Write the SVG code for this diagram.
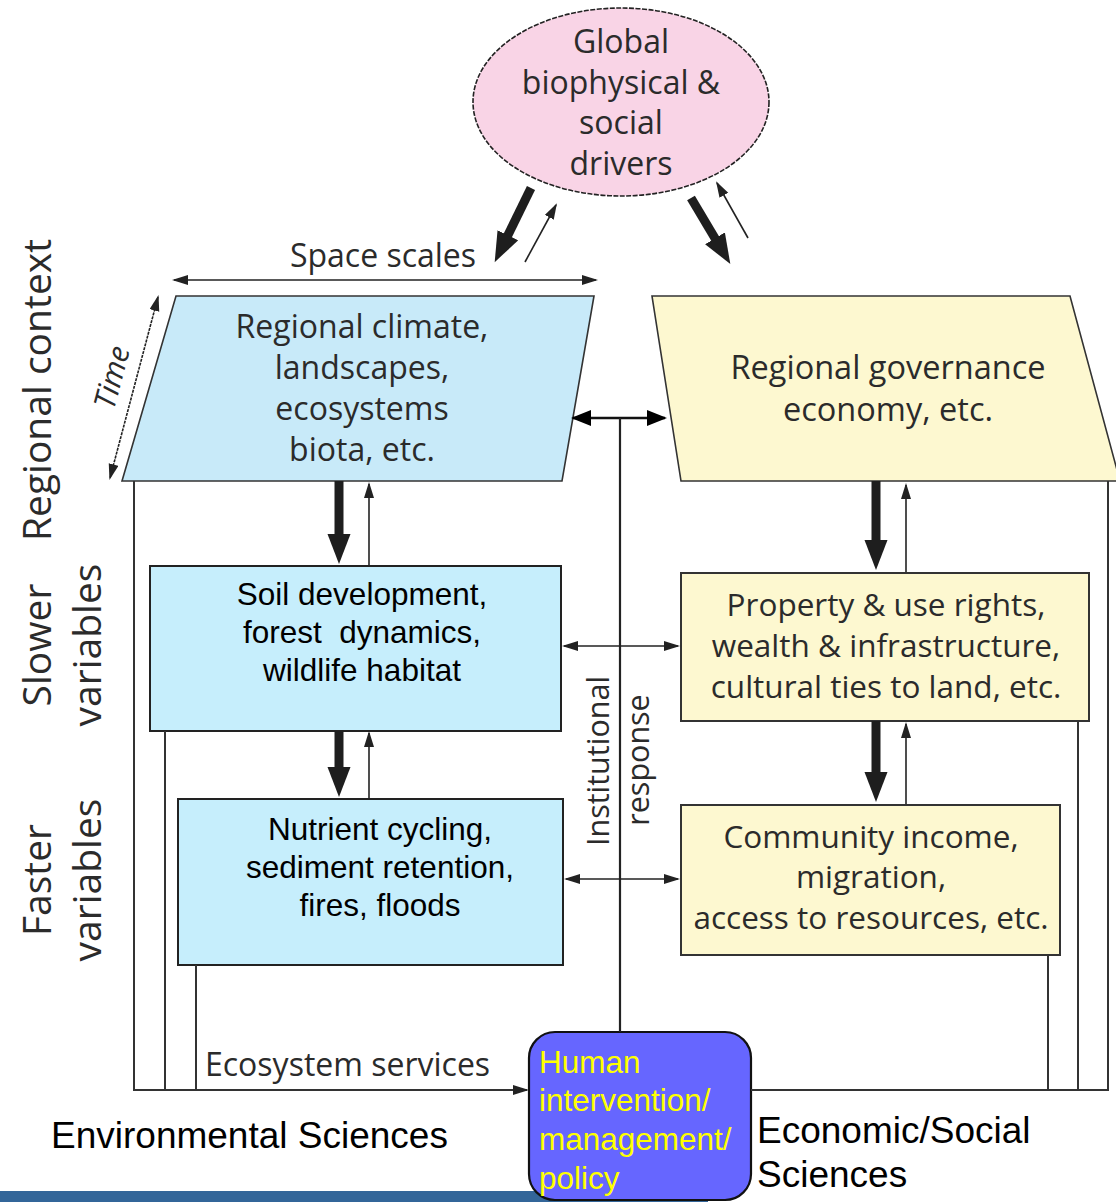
<svg xmlns="http://www.w3.org/2000/svg" width="1116" height="1202" viewBox="0 0 1116 1202">
<style>
.my{font-family:"Open Sans","Noto Sans",sans-serif;fill:#2b2b2b}
.ar{font-family:"Liberation Sans",Arial,sans-serif;fill:#000}
.ln{stroke:#333;stroke-width:2;fill:none}
.thin{stroke:#222;stroke-width:1.6;fill:none}
.thick{stroke:#1e1e1e;stroke-width:9;fill:none}
.dbl{stroke:#111;stroke-width:2.5;fill:none}
</style>
<defs>
<marker id="th" markerUnits="userSpaceOnUse" markerWidth="16" markerHeight="12" refX="14" refY="5" orient="auto-start-reverse"><path d="M0,0 L16,5 L0,10 z" fill="#222"/></marker>
<marker id="bh" markerUnits="userSpaceOnUse" markerWidth="20" markerHeight="16" refX="18" refY="8" orient="auto-start-reverse"><path d="M0,0 L20,8 L0,16 z" fill="#000"/></marker>
<marker id="kh" markerUnits="userSpaceOnUse" markerWidth="32" markerHeight="24" refX="2" refY="11.5" orient="auto"><path d="M0,0 L30,11.5 L0,23 z" fill="#1e1e1e"/></marker>
</defs>
<rect x="0" y="0" width="1116" height="1202" fill="#fff"/>
<rect x="0" y="1191" width="708" height="11" fill="#336699"/>

<g id="global-drivers">
<ellipse cx="621" cy="102" rx="148" ry="94" fill="#f9d4e6" stroke="#222" stroke-width="1.6" stroke-dasharray="5 1.5"/>
<text class="my" font-size="32" text-anchor="middle"><tspan x="621" y="53">Global</tspan><tspan x="621" y="94">biophysical &amp;</tspan><tspan x="621" y="134">social</tspan><tspan x="621" y="175">drivers</tspan></text>
</g>

<g id="regional-climate">
<polygon points="176,296 594,296 562,481 122,481" fill="#c8eaf9" stroke="#333" stroke-width="1.6"/>
<text class="my" font-size="32" text-anchor="middle"><tspan x="362" y="338">Regional climate,</tspan><tspan x="362" y="379">landscapes,</tspan><tspan x="362" y="420">ecosystems</tspan><tspan x="362" y="461">biota, etc.</tspan></text>
</g>

<g id="regional-governance">
<polygon points="652,296 1070,296 1120,481 681,481" fill="#fdf8d0" stroke="#333" stroke-width="1.6"/>
<text class="my" font-size="32.5" text-anchor="middle"><tspan x="888" y="379">Regional governance</tspan><tspan x="888" y="421">economy, etc.</tspan></text>
</g>

<g id="soil">
<rect x="150" y="566" width="411" height="165" fill="#c6eefc" stroke="#222" stroke-width="2"/>
<text class="ar" font-size="31.5" text-anchor="middle"><tspan x="362" y="605">Soil development,</tspan><tspan x="362" y="643" xml:space="preserve">forest  dynamics,</tspan><tspan x="362" y="681">wildlife habitat</tspan></text>
</g>

<g id="nutrient">
<rect x="178" y="799" width="385" height="166" fill="#c6eefc" stroke="#222" stroke-width="2"/>
<text class="ar" font-size="31.5" text-anchor="middle"><tspan x="380" y="840">Nutrient cycling,</tspan><tspan x="380" y="878">sediment retention,</tspan><tspan x="380" y="916">fires, floods</tspan></text>
</g>

<g id="property">
<rect x="681" y="573" width="408" height="148" fill="#fdf8d0" stroke="#333" stroke-width="2"/>
<text class="my" font-size="31.5" text-anchor="middle"><tspan x="886" y="616">Property &amp; use rights,</tspan><tspan x="886" y="657">wealth &amp; infrastructure,</tspan><tspan x="886" y="698">cultural ties to land, etc.</tspan></text>
</g>

<g id="community">
<rect x="681" y="805" width="379" height="150" fill="#fdf8d0" stroke="#333" stroke-width="2"/>
<text class="my" font-size="31.5" text-anchor="middle"><tspan x="871" y="848">Community income,</tspan><tspan x="871" y="888">migration,</tspan><tspan x="871" y="929">access to resources, etc.</tspan></text>
</g>

<g id="human-intervention">
<rect x="529" y="1032" width="222" height="168" rx="26" fill="#6666ff" stroke="#111" stroke-width="2.2"/>
<text class="ar" font-size="31.5" style="fill:#ffff00"><tspan x="539" y="1073">Human</tspan><tspan x="539" y="1111">intervention/</tspan><tspan x="539" y="1150">management/</tspan><tspan x="539" y="1189">policy</tspan></text>
</g>

<g id="connectors">
<line class="thick" x1="531" y1="188" x2="507" y2="237" marker-end="url(#kh)"/>
<line class="thin" x1="525" y1="262" x2="556" y2="205" marker-end="url(#th)"/>
<line class="thick" x1="691" y1="198" x2="716" y2="240" marker-end="url(#kh)"/>
<line class="thin" x1="748" y1="238" x2="717" y2="183" marker-end="url(#th)"/>
<line class="thin" x1="174" y1="280" x2="596" y2="280" marker-start="url(#th)" marker-end="url(#th)" stroke-width="2"/>
<line class="thin" x1="158" y1="297" x2="110" y2="478" marker-start="url(#th)" marker-end="url(#th)" stroke-dasharray="3 1"/>
<line class="thick" x1="339" y1="481" x2="339" y2="536" marker-end="url(#kh)"/>
<line class="thin" x1="369" y1="566" x2="369" y2="484" marker-end="url(#th)"/>
<line class="thick" x1="339" y1="731" x2="339" y2="769" marker-end="url(#kh)"/>
<line class="thin" x1="369" y1="799" x2="369" y2="733" marker-end="url(#th)"/>
<line class="thick" x1="876" y1="481" x2="876" y2="542" marker-end="url(#kh)"/>
<line class="thin" x1="906" y1="572" x2="906" y2="485" marker-end="url(#th)"/>
<line class="thick" x1="876" y1="721" x2="876" y2="774" marker-end="url(#kh)"/>
<line class="thin" x1="906" y1="804" x2="906" y2="724" marker-end="url(#th)"/>
<line class="dbl" x1="573" y1="418" x2="665" y2="418" marker-start="url(#bh)" marker-end="url(#bh)"/>
<line x1="620" y1="418" x2="620" y2="1032" stroke="#222" stroke-width="2.2"/>
<line class="thin" x1="564" y1="646" x2="678" y2="646" marker-start="url(#th)" marker-end="url(#th)" stroke-width="1.8"/>
<line class="thin" x1="566" y1="879" x2="678" y2="879" marker-start="url(#th)" marker-end="url(#th)" stroke-width="1.8"/>
<polyline class="ln" points="134,481 134,1090 527,1090" marker-end="url(#th)"/>
<line class="ln" x1="165" y1="731" x2="165" y2="1090"/>
<line class="ln" x1="196" y1="965" x2="196" y2="1090"/>
<polyline class="ln" points="751,1090 1108,1090 1108,481"/>
<line class="ln" x1="1078" y1="721" x2="1078" y2="1090"/>
<line class="ln" x1="1048" y1="955" x2="1048" y2="1090"/>
</g>

<g id="labels">
<text class="my" font-size="32" x="383" y="267" text-anchor="middle">Space scales</text>
<text class="my" font-size="30" font-style="italic" text-anchor="middle" transform="translate(122,380) rotate(-75)">Time</text>
<text class="my" font-size="39" text-anchor="middle" transform="translate(51,390) rotate(-90)">Regional context</text>
<text class="my" font-size="39" text-anchor="middle" transform="translate(51,645) rotate(-90)">Slower</text>
<text class="my" font-size="39" text-anchor="middle" transform="translate(101,645) rotate(-90)">variables</text>
<text class="my" font-size="39" text-anchor="middle" transform="translate(51,880) rotate(-90)">Faster</text>
<text class="my" font-size="39" text-anchor="middle" transform="translate(101,880) rotate(-90)">variables</text>
<text class="my" font-size="30.5" text-anchor="middle" transform="translate(609,761) rotate(-90)">Institutional</text>
<text class="my" font-size="30.5" text-anchor="middle" transform="translate(649,760) rotate(-90)">response</text>
<text class="my" font-size="32" x="205" y="1076">Ecosystem services</text>
<text class="ar" font-size="37" x="51" y="1148">Environmental Sciences</text>
<text class="ar" font-size="37" x="757" y="1143">Economic/Social</text>
<text class="ar" font-size="37" x="757" y="1187">Sciences</text>
</g>
</svg>
